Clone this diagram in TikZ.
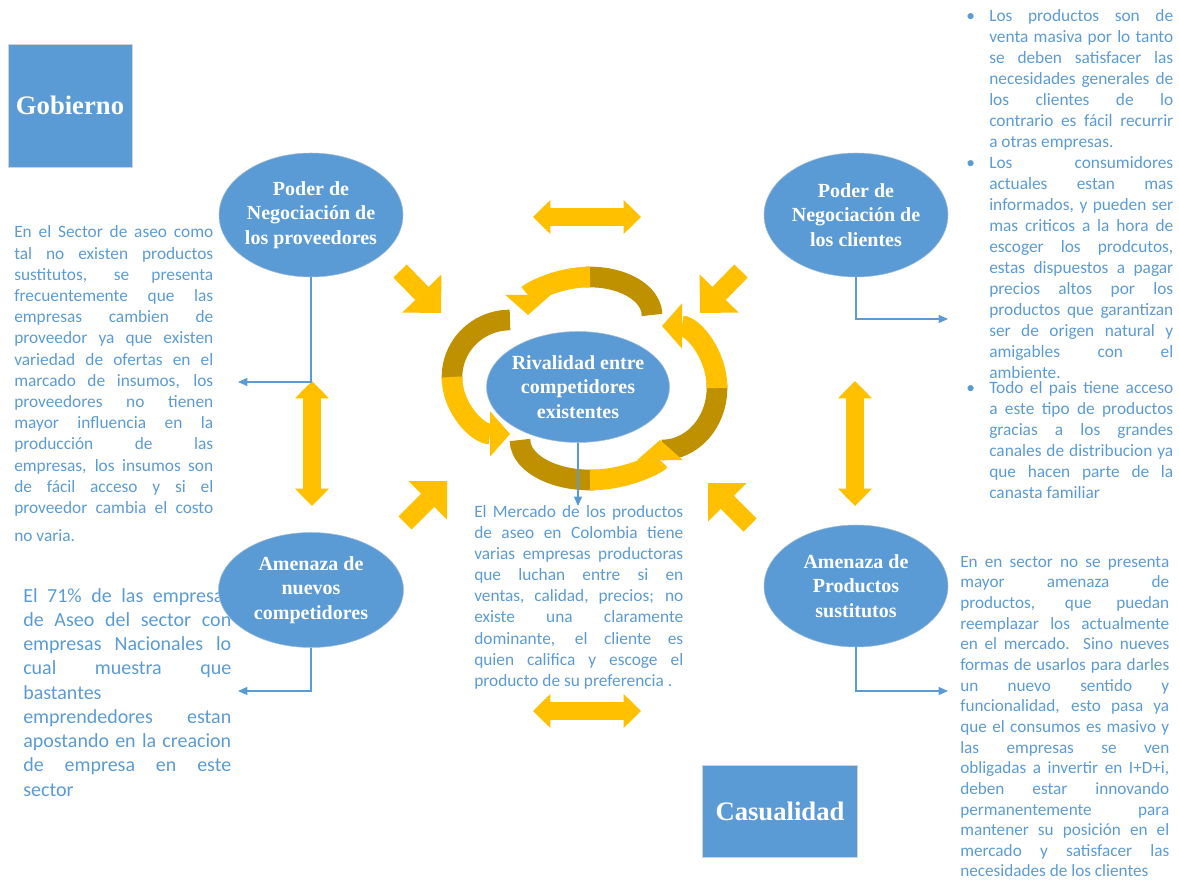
\documentclass[tikz,border=0pt]{standalone}
\usepackage{fontspec}
\setmainfont{Carlito}
\newfontfamily\fuenteserif{Liberation Serif}
\usetikzlibrary{shapes.geometric,arrows.meta}
\definecolor{azul}{HTML}{5B9BD5}
\definecolor{amarillo}{HTML}{FFC000}
\definecolor{dorado}{HTML}{BF9000}
\tolerance=10000
\hbadness=10000
\hyphenpenalty=10000
\newcommand{\vineta}{\leftskip=17.25pt\noindent\llap{\makebox[17.25pt][l]{\textbullet}}}
\tikzstyle{fuerza} = [ellipse, draw=azul!70!gray!60, fill=azul, text=white, align=center, inner xsep=-4pt, inner ysep=0pt, font=\fuenteserif\bfseries\fontsize{15pt}{18.4pt}\selectfont]
\tikzstyle{caja} = [rectangle, draw=gray!35, fill=azul, text=white, font=\fuenteserif\bfseries\fontsize{20pt}{24pt}\selectfont]
\tikzstyle{texto} = [anchor=base west, inner sep=0pt, text=azul, align=justify, font=\fontsize{13pt}{15.9pt}\selectfont]
\tikzstyle{conector} = [draw=azul, line width=1pt, -{Triangle[length=7pt,width=6pt]}]
\tikzstyle{flechadoble} = [draw=amarillo, line width=13pt, {Triangle[length=13pt,width=25.5pt,line width=0pt]}-{Triangle[length=13pt,width=25.5pt,line width=0pt]}]
\tikzstyle{flechadiag} = [draw=amarillo, line width=14pt, -{Triangle[length=20.5pt,width=41pt,line width=0pt]}]
\tikzstyle{cinta} = [draw=dorado, line width=15.5pt]
\tikzstyle{cintaflecha} = [draw=amarillo, line width=15.5pt, -{Triangle[length=15pt,width=34pt,line width=0pt]}]
\begin{document}
\begin{tikzpicture}[x=0.75pt, y=-0.75pt]
        \useasboundingbox (0,0) rectangle (1179,884);
        \node (txtproveedores) [texto, text width=149.25pt] at (14,238) {En el Sector de aseo como\linebreak tal no existen productos\linebreak sustitutos, se presenta\linebreak frecuentemente que las\linebreak empresas cambien de\linebreak proveedor ya que existen\linebreak variedad de ofertas en el\linebreak marcado de insumos, los\linebreak proveedores no tienen\linebreak mayor influencia en la\linebreak producción de las\linebreak empresas, los insumos son\linebreak de fácil acceso y si el\linebreak proveedor cambia el costo\vspace{5pt}\linebreak no varia.};
        \node (txtnuevos) [texto, text width=156pt, font=\fontsize{15pt}{18.2pt}\selectfont] at (23,602) {El 71\% de las empresas\linebreak de Aseo del sector con\linebreak empresas Nacionales lo\linebreak cual muestra que\linebreak bastantes\\ emprendedores estan\linebreak apostando en la creacion\linebreak de empresa en este\linebreak sector};
        \node (txtrivalidad) [texto, text width=156.75pt] at (474,517) {El Mercado de los productos\linebreak de aseo en Colombia tiene\linebreak varias empresas productoras\linebreak que luchan entre si en\linebreak ventas, calidad, precios; no\linebreak existe una claramente\linebreak dominante, el cliente es\linebreak quien califica y escoge el\linebreak producto de su preferencia .};
        \node (txtclientes) [texto, text width=155.25pt, font=\fontsize{13pt}{15.75pt}\selectfont] at (966,22) {\vineta Los productos son de\linebreak venta masiva por lo tanto\linebreak se deben satisfacer las\linebreak necesidades generales de\linebreak los clientes de lo\linebreak contrario es fácil recurrir\linebreak a otras empresas.\par
            \vineta Los consumidores\linebreak actuales estan mas\linebreak informados, y pueden ser\linebreak mas criticos a la hora de\linebreak escoger los prodcutos,\linebreak estas dispuestos a pagar\linebreak precios altos por los\linebreak productos que garantizan\linebreak ser de origen natural y\linebreak amigables con el\linebreak ambiente.\par\vskip-4.5pt
            \vineta Todo el pais tiene acceso\linebreak a este tipo de productos\linebreak gracias a los grandes\linebreak canales de distribucion ya\linebreak que hacen parte de la\linebreak canasta familiar\par};
        \node (txtsustitutos) [texto, text width=156.75pt, font=\fontsize{12.9pt}{15.5pt}\selectfont] at (960,567) {En en sector no se presenta\linebreak mayor amenaza de\linebreak productos, que puedan\linebreak reemplazar los actualmente\linebreak en el mercado.\ \ Sino nueves\linebreak formas de usarlos para darles\linebreak un nuevo sentido y\linebreak funcionalidad, esto pasa ya\linebreak que el consumos es masivo y\linebreak las empresas se ven\linebreak obligadas a invertir en I+D+i,\linebreak deben estar innovando\linebreak permanentemente para\linebreak mantener su posición en el\linebreak mercado y satisfacer las\linebreak necesidades de los clientes};
        \draw [cinta] (652,315) arc[start angle=0, end angle=-95, x radius=62, y radius=38];
        \draw [cinta] (510,320) arc[start angle=-90, end angle=-185, x radius=58, y radius=57];
        \draw [cinta] (520,440) arc[start angle=180, end angle=85, x radius=70, y radius=40];
        \draw [cinta] (662,450) arc[start angle=90, end angle=-5, x radius=55, y radius=62];
        \draw [cintaflecha] (590,277) arc[start angle=-90, end angle=-180, x radius=62, y radius=38];
        \draw [cintaflecha] (452,377) arc[start angle=-180, end angle=-270, x radius=58, y radius=57];
        \draw [cintaflecha] (590,480) arc[start angle=90, end angle=0, x radius=70, y radius=40];
        \draw [cintaflecha] (717,388) arc[start angle=0, end angle=-90, x radius=55, y radius=62];
        \node (gobierno) [caja, minimum width=93pt, minimum height=92pt] at (70,105.5) {Gobierno};
        \node (casualidad) [caja, minimum width=116pt, minimum height=69pt] at (780,811) {Casualidad};
        \node (proveedores) [fuerza, minimum width=138pt, minimum height=93pt] at (311,215) {Poder de\\Negociación de\\los proveedores};
        \node (clientes) [fuerza, minimum width=138pt, minimum height=93pt] at (856,215) {Poder de\\Negociación de\\los clientes};
        \node (rivalidad) [fuerza, minimum width=137.25pt, minimum height=83.25pt] at (578,387) {Rivalidad entre\\competidores\\existentes};
        \node (nuevos) [fuerza, minimum width=138.75pt, minimum height=86.25pt] at (311,590) {Amenaza de\\nuevos\\competidores};
        \node (sustitutos) [fuerza, minimum width=138pt, minimum height=91.5pt] at (856,586) {Amenaza de\\Productos\\sustitutos};
        \coordinate (dobletop1) at (533,217);
        \coordinate (dobletop2) at (641,217);
        \coordinate (doblebot1) at (533,711);
        \coordinate (doblebot2) at (641,711);
        \coordinate (dobleizq1) at (312,381);
        \coordinate (dobleizq2) at (312,506);
        \coordinate (dobleder1) at (855,381);
        \coordinate (dobleder2) at (855,506);
        \coordinate (diagtl1) at (400,271);
        \coordinate (diagtl2) at (441,313);
        \coordinate (diagtr1) at (741,271);
        \coordinate (diagtr2) at (700,313);
        \coordinate (diagbl1) at (405,523);
        \coordinate (diagbl2) at (447,481);
        \coordinate (diagbr1) at (750,525);
        \coordinate (diagbr2) at (708,483);
        \draw [flechadoble] (dobletop1) -- (dobletop2);
        \draw [flechadoble] (doblebot1) -- (doblebot2);
        \draw [flechadoble] (dobleizq1) -- (dobleizq2);
        \draw [flechadoble] (dobleder1) -- (dobleder2);
        \draw [flechadiag] (diagtl1) -- (diagtl2);
        \draw [flechadiag] (diagtr1) -- (diagtr2);
        \draw [flechadiag] (diagbl1) -- (diagbl2);
        \draw [flechadiag] (diagbr1) -- (diagbr2);
        \coordinate (pproveedores) at (238,382);
        \coordinate (pclientes) at (948,319);
        \coordinate (privalidad) at (578,506);
        \coordinate (pnuevos) at (238,691);
        \coordinate (psustitutos) at (948,691);
        \draw [conector] (proveedores.south) |- (pproveedores);
        \draw [conector] (clientes.south) |- (pclientes);
        \draw [conector] (rivalidad.south) -- (privalidad);
        \draw [conector] (nuevos.south) |- (pnuevos);
        \draw [conector] (sustitutos.south) |- (psustitutos);
    \end{tikzpicture}
\end{document}
